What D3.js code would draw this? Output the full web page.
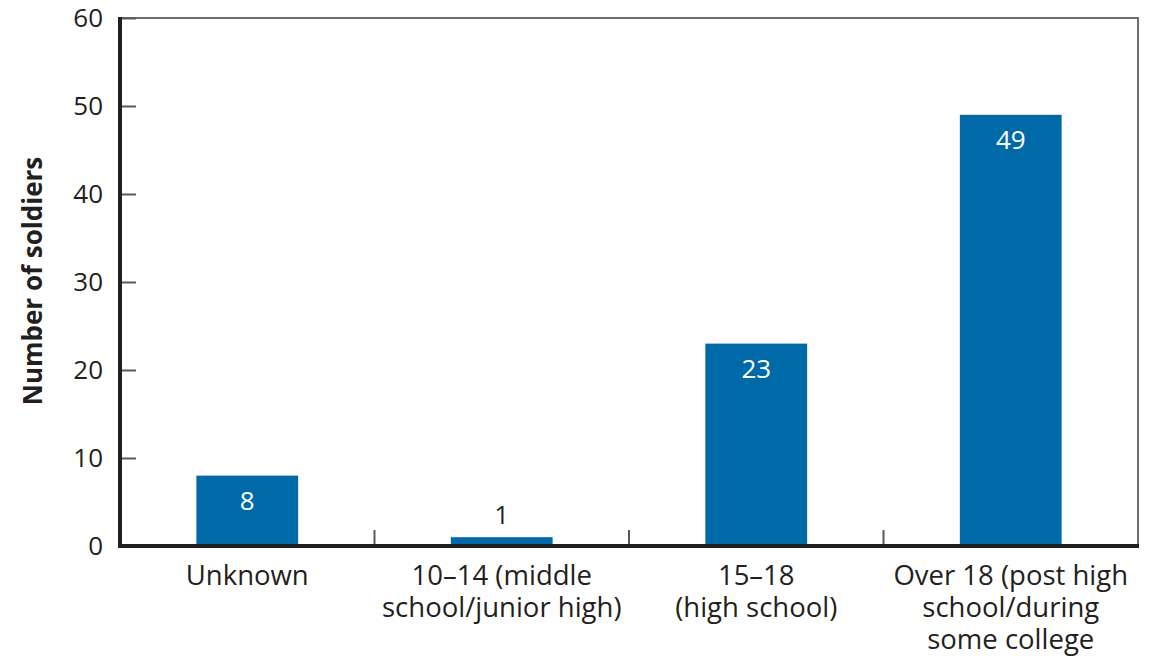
<!DOCTYPE html>
<html lang="en">
<head>
  <meta charset="utf-8">
  <title>Number of soldiers by age</title>
  <script src="https://d3js.org/d3.v7.min.js"></script>
  <style>
    body { margin: 0; background: #fff; }
    #chart text { font-family: "Open Sans", "Noto Sans", sans-serif; fill: #231f20; }
  </style>
</head>
<body>
  <div id="chart"></div>
  <script>
    "use strict"

    // dados
    const categorias = ["Unknown", "10–14", "15–18", "Over 18"];
    const rotulos = [
      ["Unknown"],
      ["10–14 (middle", "school/junior high)"],
      ["15–18", "(high school)"],
      ["Over 18 (post high", "school/during", "some college"]
    ];
    const valores = [8, 1, 23, 49];
    const yTicks = [0, 10, 20, 30, 40, 50, 60];

    const W = 1161, H = 658;
    const margin = {top: 18, right: 23, bottom: 112, left: 120};
    const w = W - margin.left - margin.right, h = H - margin.top - margin.bottom;

    const svg = d3.select("#chart").append("svg")
        .attr("width", W).attr("height", H);
    const g = svg.append("g")
        .attr("transform", "translate(" + margin.left + "," + margin.top + ")");

    const x = d3.scaleBand().domain(categorias).range([0, w]).paddingInner(0.6).paddingOuter(0.3);
    const xb = d3.scaleBand().domain(categorias).range([0, w]);
    const y = d3.scaleLinear().domain([0, 60]).range([h, 0]);

    // moldura (topo e direita)
    g.append("path")
        .attr("d", "M0,0H" + w + "V" + h)
        .attr("fill", "none").attr("stroke", "#6d6e71").attr("stroke-width", 2);

    // barras
    g.selectAll("rect.bar").data(valores).enter().append("rect")
        .attr("class", "bar")
        .attr("x", (d, i) => x(categorias[i]))
        .attr("width", x.bandwidth())
        .attr("y", d => y(d))
        .attr("height", d => h - y(d))
        .attr("fill", "#006aa9");

    // rotulos de valor
    g.selectAll("text.val").data(valores).enter().append("text")
        .attr("class", "val")
        .attr("x", (d, i) => x(categorias[i]) + x.bandwidth() / 2)
        .attr("y", d => (h - y(d)) > 30 ? y(d) + 34 : y(d) - 13)
        .attr("text-anchor", "middle")
        .style("font-size", "26px")
        .style("fill", d => (h - y(d)) > 30 ? "#fff" : "#231f20")
        .text(d => d);

    // eixo y
    const ay = g.append("g").call(d3.axisRight(y).tickValues(yTicks).tickSize(16).tickFormat(""));
    ay.select(".domain").remove();
    ay.selectAll("line").attr("stroke", "#58595b").attr("stroke-width", 2);
    g.selectAll("text.ytick").data(yTicks).enter().append("text")
        .attr("class", "ytick")
        .attr("x", -17).attr("y", d => y(d) + 9)
        .attr("text-anchor", "end")
        .style("font-size", "26px")
        .text(d => d);

    // divisorias do eixo x
    g.selectAll("line.div").data(categorias.slice(1)).enter().append("line")
        .attr("class", "div")
        .attr("x1", d => xb(d)).attr("x2", d => xb(d))
        .attr("y1", h).attr("y2", h - 16)
        .attr("stroke", "#58595b").attr("stroke-width", 2);

    // linhas dos eixos
    g.append("line").attr("x1", 0).attr("x2", 0).attr("y1", -1).attr("y2", h + 2)
        .attr("stroke", "#231f20").attr("stroke-width", 4);
    g.append("line").attr("x1", -2).attr("x2", w + 1).attr("y1", h).attr("y2", h)
        .attr("stroke", "#231f20").attr("stroke-width", 4);

    // rotulos das categorias
    const cat = g.selectAll("text.cat").data(rotulos).enter().append("text")
        .attr("class", "cat")
        .attr("text-anchor", "middle")
        .style("font-size", "27.5px")
        .attr("transform", (d, i) => "translate(" + (xb(categorias[i]) + xb.bandwidth() / 2) + "," + (h + 39) + ")");
    cat.selectAll("tspan").data(d => d).enter().append("tspan")
        .attr("x", 0).attr("dy", (d, i) => i === 0 ? 0 : 32)
        .text(d => d);

    // titulo do eixo y
    g.append("text")
        .attr("transform", "translate(" + (-78) + "," + (h / 2 - 1) + ") rotate(-90)")
        .attr("text-anchor", "middle")
        .style("font-size", "26px").style("font-weight", "bold")
        .text("Number of soldiers");
  </script>
</body>
</html>
